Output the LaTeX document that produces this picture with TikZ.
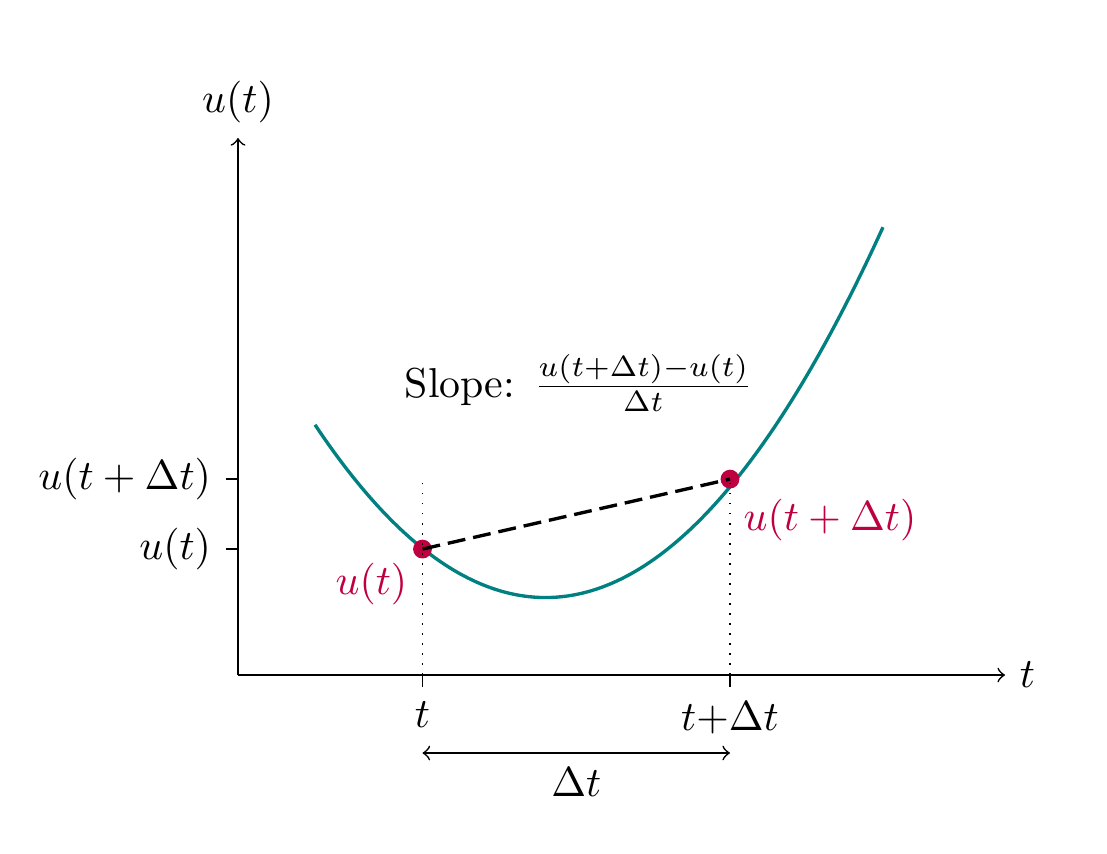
\documentclass[tikz,border=0pt]{standalone}
\usepackage{amsmath}
\begin{document}
\begin{tikzpicture}[x=1.034cm,y=1.034cm,
  axis/.style={->, line width=0.4pt},
  tickline/.style={line width=0.4pt},
  ptdot/.style={circle, fill=purple, inner sep=0pt, minimum size=4.5pt},
  guide/.style={dotted, line width=0.4pt},
  secant/.style={thick, dash pattern=on 4.3pt off 1.9pt},
  curve/.style={teal, thick},
  redlabel/.style={text=purple}]
\useasboundingbox (-1.935,-1.447) rectangle (7.065,5.488);
% coordinates
\coordinate (O) at (0,0);
\coordinate (xend) at (6.236,0);
\coordinate (yend) at (0,4.366);
\coordinate (xt1) at (1.5,0);
\coordinate (xt2) at (4,0);
\coordinate (yt1) at (0,1.024);
\coordinate (yt2) at (0,1.593);
\coordinate (g1) at (1.5,1.56);
\coordinate (g2) at (4,1.56);
\coordinate (a1) at (1.5,-0.634);
\coordinate (a2) at (4,-0.634);
% curve
\draw[curve, domain=0.626:5.244, samples=120] plot (\x, {0.4*(\x-2.5)^2+0.63});
% axes
\draw[axis] (O) -- (xend) node[right] (tlabel) {$t$};
\draw[axis] (O) -- (yend) node[above] (ulabel) {$u(t)$};
% ticks
\draw[tickline] (xt1) -- ++(0,-0.1) node[below] (tt1) {$t$};
\draw[tickline] (xt2) -- ++(0,-0.1) node[below] (tt2) {$t{+}\Delta t$};
\draw[tickline] (yt1) -- ++(-0.1,0) node[left] (ut1) {$u(t)$};
\draw[tickline] (yt2) -- ++(-0.1,0) node[left] (ut2) {$u(t+\Delta t)$};
% points
\node[ptdot] (p1) at (1.5,1.024) {};
\node[ptdot] (p2) at (4,1.593) {};
% secant
\draw[secant] (p1.center) -- (p2.center);
% guides
\draw[guide] (xt1) -- (g1);
\draw[guide] (xt2) -- (g2);
% labels
\node[redlabel] (lu1) at (1.085,0.740) {$u(t)$};
\node[redlabel] (lu2) at (4.813,1.262) {$u(t+\Delta t)$};
\node[anchor=base] (slope) at (2.77,2.26) {Slope: $\frac{u(t+\Delta t)-u(t)}{\Delta t}$};
% delta t
\draw[<->] (a1) -- (a2) node[midway, below] (dl) {$\Delta t$};
\end{tikzpicture}
\end{document}
